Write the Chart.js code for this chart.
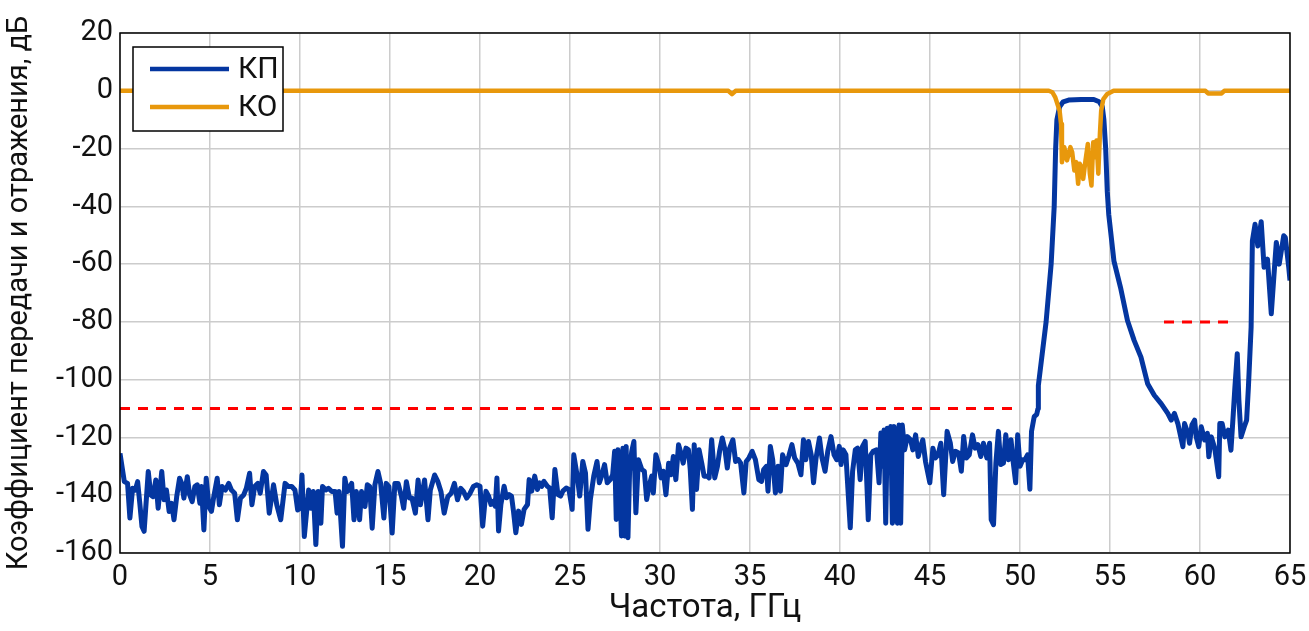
<!DOCTYPE html>
<html>
<head>
<meta charset="utf-8">
<script src="https://cdn.jsdelivr.net/npm/chart.js@4.4.1/dist/chart.umd.min.js"></script>
<style>
    html, body { margin: 0; padding: 0; background: #fff; }
    #wrap { width: 1309px; height: 631px; }
</style>
</head>
<body>
<div id="wrap"><canvas id="grafico" width="1309" height="631"></canvas></div>
<script>
// частота, ГГц (КП)
const kpFreq = [
    0, 0.24, 0.42, 0.55, 0.70, 0.85, 0.98, 1.10, 1.22, 1.34, 1.57, 1.71, 1.84, 1.99, 2.12, 2.32, 2.45, 2.58, 2.73, 2.87,
    3.00, 3.15, 3.31, 3.43, 3.55, 3.74, 3.87, 4.01, 4.16, 4.29, 4.44, 4.53, 4.66, 4.79, 4.94, 5.08, 5.21, 5.40, 5.52, 5.67,
    5.86, 6.04, 6.19, 6.37, 6.52, 6.69, 6.87, 7.02, 7.20, 7.33, 7.48, 7.66, 7.79, 7.97, 8.12, 8.29, 8.53, 8.71, 8.93, 9.17,
    9.36, 9.54, 9.72, 9.87,
    10.0, 10.11, 10.24, 10.48, 10.61, 10.74, 10.88, 11.01, 11.16, 11.25, 11.44, 11.58, 11.77, 11.95, 12.06, 12.17, 12.36, 12.49, 12.63, 12.87,
    13.0, 13.13, 13.31, 13.42, 13.61, 13.74, 13.87, 14.01, 14.16, 14.33, 14.48, 14.66, 14.79, 14.94, 15.12, 15.27, 15.45, 15.64, 15.76, 15.91,
    16.08, 16.22, 16.41, 16.56, 16.69, 16.92, 17.11, 17.24, 17.48, 17.66, 17.83, 18.01, 18.21, 18.40, 18.58, 18.75, 18.93, 19.08, 19.26, 19.45,
    19.63, 19.82,
    20.0, 20.15, 20.33, 20.48, 20.61, 20.74, 20.85, 20.94, 21.03, 21.16, 21.34, 21.47, 21.62, 21.75, 21.86, 21.99, 22.14, 22.30, 22.45, 22.64,
    22.73, 22.87, 23.04, 23.19, 23.31, 23.43, 23.55, 23.74, 23.87, 24.01, 24.16, 24.33, 24.48, 24.60, 24.79, 24.94, 25.12, 25.21, 25.40, 25.54,
    25.71, 25.86, 26.00, 26.13, 26.32, 26.50, 26.63, 26.78, 26.92, 27.07, 27.24, 27.37, 27.48, 27.57, 27.66, 27.77, 27.86, 27.94, 28.03, 28.12,
    28.22, 28.31, 28.43, 28.55, 28.66, 28.80, 28.99, 29.13, 29.26, 29.39, 29.54, 29.63, 29.77,
    29.93, 30.06, 30.18, 30.33, 30.48, 30.61, 30.74, 30.88, 31.03, 31.16, 31.29, 31.44, 31.58, 31.68, 31.80, 31.90, 32.03, 32.17, 32.32, 32.45,
    32.63, 32.73, 32.87, 33.04, 33.19, 33.31, 33.46, 33.61, 33.74, 33.87, 34.05, 34.20, 34.35, 34.48, 34.66, 34.79, 34.94, 35.12, 35.30, 35.49,
    35.64, 35.76, 35.91, 36.00, 36.13, 36.26, 36.41, 36.56, 36.69, 36.81, 37.00, 37.15, 37.33, 37.48, 37.66, 37.83, 37.97, 38.10, 38.25, 38.40,
    38.53, 38.67, 38.86, 39.00, 39.17, 39.32, 39.50, 39.67, 39.82, 39.96,
    40.06, 40.18, 40.33, 40.42, 40.57, 40.70, 40.85, 40.98, 41.12, 41.25, 41.40, 41.57, 41.71, 41.84, 42.03, 42.17, 42.27, 42.36, 42.45, 42.54,
    42.63, 42.72, 42.82, 42.91, 43.00, 43.09, 43.19, 43.28, 43.37, 43.46, 43.59, 43.74, 43.92, 44.05, 44.20, 44.35, 44.48, 44.60, 44.75, 44.99,
    45.16, 45.30, 45.45, 45.60, 45.76, 45.95, 46.13, 46.26, 46.41, 46.59, 46.74, 46.87, 47.02, 47.18, 47.36, 47.51, 47.66, 47.82, 47.97, 48.16,
    48.31, 48.40, 48.53, 48.66, 48.80, 48.93, 49.08, 49.21, 49.36, 49.50, 49.63, 49.76, 49.87, 50.00, 50.15, 50.28, 50.42, 50.55, 50.64, 50.79,
    50.93, 51.0, 51.02, 51.45, 51.73, 51.90, 51.98, 52.05, 52.2, 52.4, 52.7, 53.4, 54.1, 54.4, 54.57, 54.66, 54.76, 54.85, 54.93, 55.22,
    55.6, 55.97, 56.34, 56.72, 57.09, 57.46, 57.84, 58.21, 58.40, 58.58, 58.77, 59.05, 59.14, 59.33, 59.42, 59.55, 59.70, 59.79, 59.93, 60.07,
    60.26, 60.41, 60.49, 60.63, 60.82, 61.04, 61.10, 61.23, 61.38, 61.57, 61.72, 61.85, 61.94, 62.07, 62.16, 62.28, 62.46, 62.59, 62.69, 62.84,
    62.91, 63.06, 63.21, 63.40, 63.56, 63.75, 63.96, 64.14, 64.24, 64.40, 64.65, 64.74, 64.93, 65.0
];
// коэффициент передачи, дБ
const kpVal = [
    -125.5, -135.3, -135.9, -147.9, -137.6, -138.2, -135.3, -142.8, -150.8, -152.5, -131.8, -139.9, -140.5, -134.7, -144.5, -131.8, -141.6, -138.2, -145.6, -142.8,
    -148.5, -140.5, -134.1, -135.9, -141.0, -133.6, -139.9, -142.2, -137.0, -136.4, -142.8, -137.0, -152.0, -134.1, -143.9, -145.6, -140.5, -134.1, -143.3, -137.0,
    -138.2, -135.9, -138.2, -139.3, -148.5, -141.0, -139.9, -137.6, -132.4, -143.3, -137.0, -135.9, -139.3, -131.8, -133.0, -146.2, -136.4, -143.3, -148.5, -135.9,
    -137.0, -137.0, -138.2, -145.1,
    -144.5, -133.0, -154.3, -138.2, -144.5, -138.7, -157.1, -138.7, -149.7, -137.0, -138.2, -137.6, -138.7, -138.7, -146.2, -138.7, -157.7, -134.1, -138.7, -135.9,
    -148.5, -138.7, -148.5, -138.7, -143.9, -136.4, -137.0, -151.4, -136.4, -131.8, -135.9, -147.9, -135.9, -137.0, -153.1, -135.9, -135.9, -140.5, -144.5, -135.3,
    -141.0, -141.0, -146.2, -134.7, -143.3, -134.7, -148.5, -138.2, -133.0, -135.3, -138.7, -146.2, -140.5, -139.3, -135.9, -141.6, -137.6, -138.7, -141.0, -139.3,
    -137.0, -136.4,
    -136.9, -150.7, -138.6, -140.3, -143.2, -142.1, -143.8, -134.0, -152.4, -143.2, -136.9, -140.9, -139.8, -140.3, -145.5, -153.0, -145.5, -150.1, -144.9, -143.2,
    -134.6, -138.6, -133.4, -138.0, -135.7, -136.9, -135.2, -136.9, -137.5, -147.8, -131.1, -139.8, -140.3, -138.6, -137.5, -138.0, -144.9, -126.0, -133.4, -140.3,
    -128.3, -132.3, -151.8, -141.5, -133.4, -128.3, -135.7, -132.9, -129.4, -135.7, -134.6, -132.9, -124.8, -148.4, -124.3, -136.9, -154.1, -123.7, -154.1, -123.1,
    -154.7, -131.7, -124.8, -121.4, -146.1, -127.7, -131.1, -131.7, -141.5, -136.9, -133.4, -139.2, -126.0,
    -129.4, -134.0, -131.7, -139.8, -128.9, -132.9, -126.6, -134.6, -122.5, -125.4, -128.9, -123.7, -124.3, -131.1, -144.9, -122.5, -138.0, -124.3, -128.9, -133.4,
    -133.4, -134.0, -120.8, -134.0, -130.0, -124.8, -120.2, -124.3, -130.6, -123.7, -120.8, -128.3, -127.7, -128.9, -139.2, -128.3, -127.1, -124.8, -127.7, -134.6,
    -135.2, -131.1, -130.0, -138.6, -123.1, -127.7, -139.2, -130.0, -138.6, -126.0, -129.4, -126.6, -122.5, -127.1, -128.9, -132.9, -120.8, -127.7, -121.4, -126.0,
    -135.7, -127.1, -120.2, -127.1, -131.7, -124.8, -119.7, -126.0, -127.7, -123.1,
    -129.4, -124.3, -126.0, -135.7, -151.3, -131.7, -124.3, -123.7, -134.6, -123.1, -121.4, -148.5, -126.0, -124.8, -124.3, -135.7, -118.5, -130.0, -117.4, -149.7,
    -116.8, -130.0, -116.2, -149.7, -116.2, -135.7, -149.7, -115.7, -149.7, -115.7, -124.3, -119.7, -120.8, -124.3, -119.1, -126.6, -123.1, -120.8, -128.3, -135.7,
    -123.7, -127.1, -126.0, -122.0, -139.8, -117.9, -122.0, -128.3, -124.8, -125.4, -131.7, -119.7, -127.1, -126.0, -119.1, -123.7, -122.5, -126.6, -122.0, -127.1,
    -122.0, -148.5, -150.2, -128.9, -117.9, -129.4, -128.9, -119.1, -127.7, -120.8, -128.9, -135.7, -119.1, -130.0, -127.7, -127.7, -126.0, -137.9, -117.9, -112.8,
    -112.0, -110.0, -102.0, -80.0, -60.0, -40.0, -20.0, -10.0, -5.5, -3.8, -3.2, -3.0, -3.0, -3.8, -5.5, -10.0, -20.0, -35.0, -42.8, -59.0,
    -68.5, -79.5, -86.4, -92.2, -101.4, -105.4, -108.3, -111.7, -114.0, -111.7, -115.2, -123.2, -115.2, -118.6, -122.0, -115.7, -114.0, -119.8, -123.2, -116.3,
    -120.9, -118.6, -126.7, -119.8, -123.8, -133.6, -115.2, -115.2, -119.8, -117.5, -124.4, -111.7, -102.5, -91.0, -107.1, -119.8, -116.3, -114.0, -102.5, -81.8,
    -52.0, -46.2, -53.7, -45.3, -61.1, -58.3, -77.2, -61.1, -52.5, -60.0, -50.2, -50.8, -61.1, -65.7
];

// коэффициент отражения, дБ
const koFreq = [0, 33.8, 34.0, 34.2, 51.6, 51.8, 51.96, 52.2, 52.28, 52.33, 52.46, 52.61, 52.8, 52.9, 53.02, 53.13, 53.23, 53.32, 53.41, 53.51,
    53.64, 53.77, 53.88, 53.97, 54.07, 54.16, 54.25, 54.35, 54.44, 54.51, 54.63, 54.85, 55.2, 60.3, 60.45, 61.2, 61.35, 65];
const koVal = [0, 0, -1.2, 0, 0, -0.5, -2.3, -6.9, -11.5, -24.7, -19.5, -24.1, -19.5, -21.3, -27.6, -24.7, -32.2, -25.3, -26.4, -30.5,
    -24.1, -18.4, -28.7, -32.8, -17.8, -23.0, -17.2, -28.7, -14.9, -6.9, -2.9, -1.1, 0, 0, -0.9, -0.9, 0, 0];

// нормы (красные пунктиры)
const norma1Freq = [0, 50];
const norma1Val = [-110, -110];
const norma2Freq = [58, 61.7];
const norma2Val = [-80, -80];

const yTicks = [20, 0, -20, -40, -60, -80, -100, -120, -140, -160];
const xTicks = [0, 5, 10, 15, 20, 25, 30, 35, 40, 45, 50, 55, 60, 65];

const pares = (xs, ys) => xs.map((x, i) => ({ x: x, y: ys[i] }));

const fuente = 'Roboto, "DejaVu Sans", sans-serif';

// рамка + легенда
const marco = {
    id: 'marco',
    afterDatasetsDraw(chart) {
        const { ctx, chartArea: a } = chart;
        ctx.save();
        ctx.strokeStyle = '#000';
        ctx.lineWidth = 1.5;
        ctx.strokeRect(a.left, a.top, a.right - a.left, a.bottom - a.top);

        // легенда
        const lx = 133, ly = 47, lw = 150, lh = 84;
        ctx.fillStyle = '#fff';
        ctx.fillRect(lx, ly, lw, lh);
        ctx.strokeRect(lx, ly, lw, lh);
        const items = [chart.data.datasets[1], chart.data.datasets[0]];
        items.forEach((ds, i) => {
            const yy = ly + 22 + i * 38;
            ctx.strokeStyle = ds.borderColor;
            ctx.lineWidth = 4.5;
            ctx.beginPath();
            ctx.moveTo(150, yy);
            ctx.lineTo(229, yy);
            ctx.stroke();
            ctx.fillStyle = '#111';
            ctx.font = '30px ' + fuente;
            ctx.textBaseline = 'middle';
            ctx.textAlign = 'left';
            ctx.fillText(ds.label, 238, yy + 1);
        });
        ctx.restore();
    }
};

new Chart(document.getElementById('grafico'), {
    type: 'line',
    data: {
        datasets: [
            {
                label: 'КО',
                data: pares(koFreq, koVal),
                borderColor: '#e8980c',
                borderWidth: 4.5,
                pointRadius: 0,
                tension: 0,
                borderJoinStyle: 'round',
                order: 1
            }, {
                label: 'КП',
                data: pares(kpFreq, kpVal),
                borderColor: '#0436a0',
                borderWidth: 5,
                pointRadius: 0,
                tension: 0,
                borderJoinStyle: 'round',
                order: 2
            }, {
                label: 'норма1',
                data: pares(norma1Freq, norma1Val),
                borderColor: '#ff0000',
                borderWidth: 3,
                borderDash: [10, 8],
                pointRadius: 0,
                order: 0
            }, {
                label: 'норма2',
                data: pares(norma2Freq, norma2Val),
                borderColor: '#ff0000',
                borderWidth: 3,
                borderDash: [10, 8],
                pointRadius: 0,
                order: 0
            }
        ]
    },
    options: {
        responsive: false,
        animation: false,
        layout: { padding: { top: 33, right: 0, left: 0, bottom: 0 } },
        plugins: {
            legend: { display: false },
            tooltip: { enabled: false }
        },
        scales: {
            x: {
                type: 'linear',
                min: 0,
                max: 65,
                afterBuildTicks: (s) => { s.ticks = xTicks.map(v => ({ value: v })); },
                afterFit: (s) => { s.height = 78; s.paddingLeft = 0; s.paddingRight = 19; },
                grid: { color: '#cccccc', lineWidth: 1.5, drawTicks: false },
                border: { display: false },
                ticks: { color: '#111', font: { family: fuente, size: 29 }, padding: 7, maxRotation: 0 },
                title: { display: true, text: 'Частота, ГГц', color: '#111', font: { family: fuente, size: 33 }, padding: { top: 0, bottom: 2 } }
            },
            y: {
                min: -160,
                max: 20,
                afterBuildTicks: (s) => { s.ticks = yTicks.map(v => ({ value: v })); },
                afterFit: (s) => { s.width = 120; },
                grid: { color: '#cccccc', lineWidth: 1.5, drawTicks: false },
                border: { display: false },
                ticks: { color: '#111', font: { family: fuente, size: 29 }, padding: 7 },
                title: { display: true, text: 'Коэффициент передачи и отражения, дБ', color: '#111', font: { family: fuente, size: 29 }, padding: { top: 2, bottom: 0 } }
            }
        }
    },
    plugins: [marco]
});
</script>
</body>
</html>
